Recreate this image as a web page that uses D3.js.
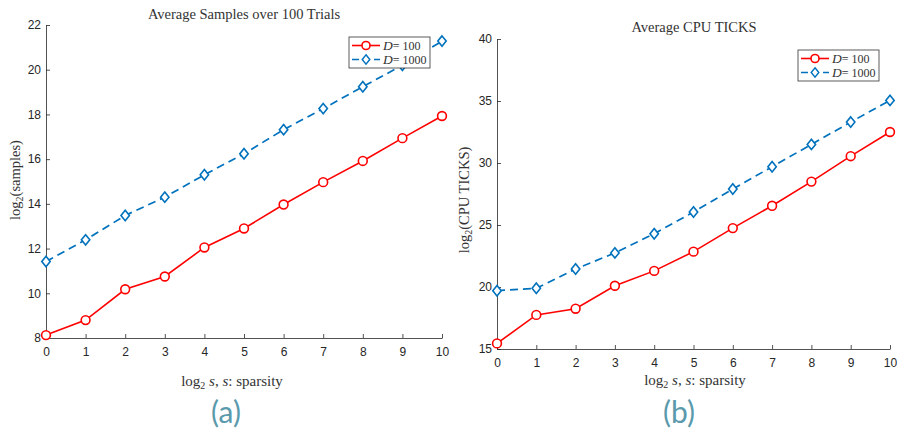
<!DOCTYPE html>
<html>
<head>
<meta charset="utf-8">
<script src="https://cdn.jsdelivr.net/npm/d3@7"></script>
<style>
  body { margin: 0; background: #fff; }
  .tick text { font-family: "Liberation Sans", Arial, sans-serif; font-size: 12px; fill: #262626; }
  .serif { font-family: "Liberation Serif", "DejaVu Serif", serif; fill: #333; }
  .sub-label { font-family: Lato, "Open Sans", sans-serif; fill: #5b9aac; font-size: 30px; }
</style>
</head>
<body>
<div id="chart"></div>
<script>
// x values shared by both panels
const sparsity = [0, 1, 2, 3, 4, 5, 6, 7, 8, 9, 10];

// (a) average samples
const samplesD100 = [8.13, 8.8, 10.18, 10.75, 12.05, 12.9, 13.97, 14.97, 15.92, 16.94, 17.93];
const samplesD1000 = [11.42, 12.39, 13.48, 14.3, 15.3, 16.24, 17.32, 18.26, 19.24, 20.2, 21.28];
const samplesTicks = [8, 10, 12, 14, 16, 18, 20, 22];

// (b) average cpu ticks
const ticksD100 = [15.45, 17.75, 18.25, 20.1, 21.3, 22.85, 24.75, 26.55, 28.5, 30.55, 32.5];
const ticksD1000 = [19.7, 19.9, 21.45, 22.75, 24.3, 26.05, 27.9, 29.7, 31.5, 33.3, 35.05];
const cpuTicks = [15, 20, 25, 30, 35, 40];

const seriesNames = ['100', '1000'];

const svg = d3.select('#chart').append('svg')
    .attr('width', 898)
    .attr('height', 429);

function drawPanel(cfg) {
    const x = d3.scaleLinear().domain([0, 10]).range([cfg.left, cfg.right]);
    const y = d3.scaleLinear().domain(cfg.yDomain).range([cfg.bottom, cfg.top]);
    const g = svg.append('g');

    // axes, ticks pointing inward like matlab
    const xAxis = g.append('g')
        .attr('transform', `translate(0,${cfg.bottom})`)
        .call(d3.axisBottom(x).tickValues(sparsity).tickSizeInner(-4).tickSizeOuter(0).tickPadding(9));
    const yAxis = g.append('g')
        .attr('transform', `translate(${cfg.left},0)`)
        .call(d3.axisLeft(y).tickValues(cfg.yTicks).tickSizeInner(-4).tickSizeOuter(0).tickPadding(5));
    [xAxis, yAxis].forEach(a => {
        a.select('.domain').attr('stroke', '#262626').attr('stroke-width', 0.8);
        a.selectAll('.tick line').attr('stroke', '#262626').attr('stroke-width', 0.8);
    });

    const line = d3.line().x((d, i) => x(sparsity[i])).y(d => y(d));

    // D = 100, red solid with circles
    g.append('path')
        .datum(cfg.d100)
        .attr('d', line)
        .attr('fill', 'none')
        .attr('stroke', '#ff0000')
        .attr('stroke-width', 1.6);
    g.selectAll('.circ')
        .data(cfg.d100)
        .join('circle')
        .attr('cx', (d, i) => x(sparsity[i]))
        .attr('cy', d => y(d))
        .attr('r', 4.4)
        .attr('fill', '#fff')
        .attr('stroke', '#ff0000')
        .attr('stroke-width', 1.6);

    // D = 1000, blue dashed with diamonds
    g.append('path')
        .datum(cfg.d1000)
        .attr('d', line)
        .attr('fill', 'none')
        .attr('stroke', '#0072bd')
        .attr('stroke-width', 1.7)
        .attr('stroke-dasharray', '8,5');
    const diamond = 'M0,-5.2L4.2,0L0,5.2L-4.2,0Z';
    g.selectAll('.diam')
        .data(cfg.d1000)
        .join('path')
        .attr('d', diamond)
        .attr('transform', (d, i) => `translate(${x(sparsity[i])},${y(d)})`)
        .attr('fill', '#fff')
        .attr('stroke', '#0072bd')
        .attr('stroke-width', 1.6);

    // title
    g.append('text')
        .attr('class', 'serif')
        .attr('x', cfg.titleX)
        .attr('y', cfg.titleY)
        .attr('text-anchor', 'middle')
        .style('font-size', '14.5px')
        .text(cfg.title);

    // x label
    const xl = g.append('text')
        .attr('class', 'serif')
        .attr('x', cfg.xLabelX)
        .attr('y', cfg.xLabelY)
        .attr('text-anchor', 'middle')
        .style('font-size', '15px');
    xl.append('tspan').text('log');
    xl.append('tspan').attr('dy', 3).style('font-size', '10px').text('2');
    xl.append('tspan').attr('dy', -3).style('font-style', 'italic').text(' s');
    xl.append('tspan').text(', ');
    xl.append('tspan').style('font-style', 'italic').text('s');
    xl.append('tspan').text(':  sparsity');

    // y label
    const yl = g.append('text')
        .attr('class', 'serif')
        .attr('transform', `translate(${cfg.yLabelX},${cfg.yLabelY}) rotate(-90)`)
        .attr('text-anchor', 'middle')
        .style('font-size', '14.5px');
    yl.append('tspan').text('log');
    yl.append('tspan').attr('dy', 3).style('font-size', '10px').text('2');
    yl.append('tspan').attr('dy', -3).text(cfg.yLabel);

    // legend
    const lg = g.append('g').attr('transform', `translate(${cfg.legX},${cfg.legY})`);
    lg.append('rect')
        .attr('width', 81)
        .attr('height', 31)
        .attr('fill', '#fff')
        .attr('stroke', '#333')
        .attr('stroke-width', 0.8);
    seriesNames.forEach((name, i) => {
        const ly = 8.5 + i * 14;
        const color = i === 0 ? '#ff0000' : '#0072bd';
        lg.append('line')
            .attr('x1', 3).attr('x2', 31).attr('y1', ly).attr('y2', ly)
            .attr('stroke', color)
            .attr('stroke-width', 1.6)
            .attr('stroke-dasharray', i === 0 ? null : '7,4');
        if (i === 0) {
            lg.append('circle').attr('cx', 17).attr('cy', ly).attr('r', 4)
                .attr('fill', '#fff').attr('stroke', color).attr('stroke-width', 1.6);
        } else {
            lg.append('path').attr('d', diamond).attr('transform', `translate(17,${ly}) scale(0.9)`)
                .attr('fill', '#fff').attr('stroke', color).attr('stroke-width', 1.6);
        }
        const t = lg.append('text')
            .attr('class', 'serif')
            .attr('x', 34)
            .attr('y', ly + 4)
            .style('font-size', '12px');
        t.append('tspan').style('font-style', 'italic').style('font-size', '13.5px').text('D');
        t.append('tspan').text('= ' + name);
    });

    // panel label
    g.append('text')
        .attr('class', 'sub-label')
        .attr('x', cfg.subX)
        .attr('y', 423)
        .attr('text-anchor', 'middle')
        .text(cfg.sub);
}

drawPanel({
    left: 46, right: 442, top: 25, bottom: 338,
    yDomain: [8, 22], yTicks: samplesTicks,
    d100: samplesD100, d1000: samplesD1000,
    title: 'Average Samples over 100 Trials', titleX: 244, titleY: 19,
    xLabelX: 232, xLabelY: 386,
    yLabel: '(samples)', yLabelX: 20, yLabelY: 180,
    legX: 349, legY: 37,
    sub: '(a)', subX: 226
});

drawPanel({
    left: 497, right: 890, top: 39, bottom: 349,
    yDomain: [15, 40], yTicks: cpuTicks,
    d100: ticksD100, d1000: ticksD1000,
    title: 'Average CPU TICKS', titleX: 694, titleY: 32,
    xLabelX: 695, xLabelY: 385,
    yLabel: '(CPU TICKS)', yLabelX: 469, yLabelY: 200,
    legX: 798, legY: 50,
    sub: '(b)', subX: 679
});
</script>
</body>
</html>
